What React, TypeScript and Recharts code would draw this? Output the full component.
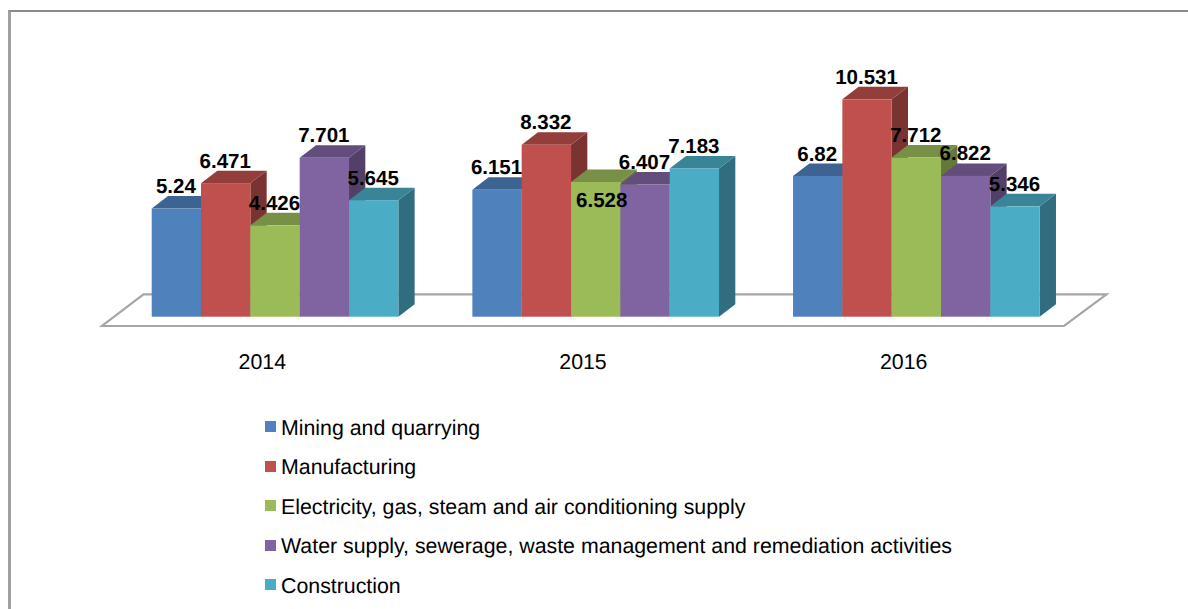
import { Bar, BarChart, LabelList, Legend, XAxis, YAxis, usePlotArea } from 'recharts'

const years = ['2014', '2015', '2016']
const mining = [5.24, 6.151, 6.82]
const manufacturing = [6.471, 8.332, 10.531]
const electricity = [4.426, 6.528, 7.712]
const water = [7.701, 6.407, 6.822]
const construction = [5.645, 7.183, 5.346]

const seriesNames = [
  'Mining and quarrying',
  'Manufacturing',
  'Electricity, gas, steam and air conditioning supply',
  'Water supply, sewerage, waste management and remediation activities',
  'Construction'
]
const seriesColors = ['#4f81bd', '#c0504d', '#9bbb59', '#8064a2', '#4bacc6']
const seriesValues = [mining, manufacturing, electricity, water, construction]

const data = years.map((year, i) => {
  const row: Record<string, string | number> = { year }
  seriesNames.forEach((name, s) => {
    row[name] = seriesValues[s][i]
  })
  return row
})

const FONT = '"Liberation Sans", Arial, sans-serif'

// the bars stand part way back on the floor
const SHIFT_X = 12.7
const SHIFT_Y = -9.3
const DEPTH_X = 16.3
const DEPTH_Y = -12.5

function shade(hex: string, k: number): string {
  const n = parseInt(hex.slice(1), 16)
  const c = [(n >> 16) & 255, (n >> 8) & 255, n & 255].map((v) => Math.round(v * k))
  return `rgb(${c[0]},${c[1]},${c[2]})`
}

function Bar3D(props: any): React.JSX.Element {
  const { x, y, width, height, fill } = props
  const l = x + SHIFT_X
  const r = l + width
  const t = y + SHIFT_Y
  const b = t + height
  return (
    <g>
      <polygon
        points={`${r},${t} ${r + DEPTH_X},${t + DEPTH_Y} ${r + DEPTH_X},${b + DEPTH_Y} ${r},${b}`}
        fill={shade(fill, 0.64)}
      />
      <polygon
        points={`${l},${t} ${l + DEPTH_X},${t + DEPTH_Y} ${r + DEPTH_X},${t + DEPTH_Y} ${r},${t}`}
        fill={shade(fill, 0.77)}
      />
      <rect x={l} y={t} width={width} height={height} fill={fill} />
    </g>
  )
}

function Floor(): React.JSX.Element | null {
  const plot = usePlotArea()
  if (!plot) return null
  const left = plot.x
  const right = plot.x + plot.width
  const front = plot.y + plot.height
  const back = front - 31.7
  return (
    <polygon
      points={`${left},${front} ${right},${front} ${right + 42.5},${back} ${left + 41.5},${back}`}
      fill="#fff"
      stroke="#a6a6a6"
      strokeWidth={2.2}
    />
  )
}

function ValueLabel(props: any): React.JSX.Element {
  const box = props.viewBox ?? props
  const moved = props.value === 6.528
  return (
    <text
      x={box.x + box.width / 2 + SHIFT_X + (moved ? 6 : -0.5)}
      y={box.y + SHIFT_Y + (moved ? 25 : -15.4)}
      textAnchor="middle"
      fontFamily={FONT}
      fontSize={20.5}
      fontWeight="bold"
      fill="#000"
    >
      {props.value}
    </text>
  )
}

function LegendList(props: any): React.JSX.Element {
  return (
    <div>
      {(props.payload ?? []).map((item: any) => (
        <div
          key={item.value}
          style={{ display: 'flex', alignItems: 'center', height: 39.5, fontSize: 21.33, color: '#000' }}
        >
          <span style={{ width: 11, height: 11, marginRight: 5, background: item.color }} />
          <span style={{ position: 'relative', top: 1.5 }}>{item.value}</span>
        </div>
      ))}
    </div>
  )
}

export default function App(): React.JSX.Element {
  return (
    <div
      style={{
        position: 'absolute',
        left: 0,
        top: 0,
        width: 1188,
        height: 609,
        background: '#fff',
        overflow: 'hidden',
        fontFamily: FONT,
        textRendering: 'geometricPrecision'
      }}
    >
      <div
        style={{
          position: 'absolute',
          left: 8,
          top: 10,
          right: 0,
          bottom: 0,
          borderLeft: '3px solid #a0a0a0',
          borderTop: '2px solid #8c8c8c'
        }}
      />
      <div style={{ position: 'absolute', left: 0, top: 0 }}>
        <BarChart
          width={1188}
          height={609}
          data={data}
          barSize={49.33}
          barGap={0}
          margin={{ top: 78.3, right: 124, bottom: 223, left: 102 }}
        >
          <Floor />
          <XAxis
            dataKey="year"
            axisLine={false}
            tickLine={false}
            tickMargin={22}
            height={60}
            interval={0}
            tick={{ fontSize: 21.33, fill: '#000', fontFamily: FONT }}
          />
          <YAxis hide domain={[0, 12]} />
          <Legend
            layout="horizontal"
            verticalAlign="middle"
            align="center"
            width={800}
            itemSorter={null}
            wrapperStyle={{ left: 265, top: 407, width: 800 }}
            content={LegendList}
          />
          {seriesNames.map((name, s) => (
            <Bar
              key={name}
              dataKey={name}
              fill={seriesColors[s]}
              shape={Bar3D}
              isAnimationActive={false}
            >
              <LabelList dataKey={name} content={ValueLabel} />
            </Bar>
          ))}
        </BarChart>
      </div>
    </div>
  )
}
